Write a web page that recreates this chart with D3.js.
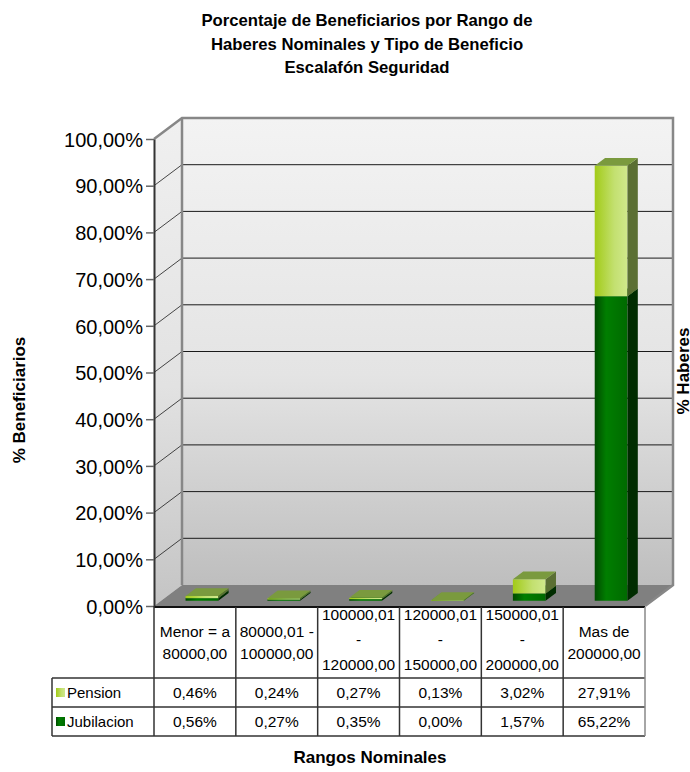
<!DOCTYPE html>
<html>
<head>
<meta charset="utf-8">
<script src="https://cdn.jsdelivr.net/npm/d3@7"></script>
<style>
  body { margin: 0; background: #fff; }
  svg text { font-family: "Liberation Sans", Arial, Helvetica, sans-serif; fill: #000; }
</style>
</head>
<body>
<svg id="chart" width="690" height="772"></svg>
<script>
// Data
var categories = ['Menor = a 80000,00', '80000,01 - 100000,00', '100000,01 - 120000,00',
                  '120000,01 - 150000,00', '150000,01 - 200000,00', 'Mas de 200000,00'];
var headerLines = [
    ['Menor = a', '80000,00'],
    ['80000,01 -', '100000,00'],
    ['100000,01', '-', '120000,00'],
    ['120000,01', '-', '150000,00'],
    ['150000,01', '-', '200000,00'],
    ['Mas de', '200000,00']
];
var pension    = [0.46, 0.24, 0.27, 0.13, 3.02, 27.91];
var jubilacion = [0.56, 0.27, 0.35, 0.00, 1.57, 65.22];
var yTicks = [0, 10, 20, 30, 40, 50, 60, 70, 80, 90, 100];

var svg = d3.select('#chart');

// plot geometry
var plotLeft = 154, plotRight = 645, plotBottom = 606, plotTop = 139;
var depthX = 28, depthY = -21;          // wall depth
var barF0 = 0.25, barF1 = 0.62;         // bar placed in the middle of the depth

var locale = d3.formatLocale({ decimal: ',', thousands: '.', grouping: [3] });
var pct = function (v) { return locale.format('.2f')(v) + '%'; };

var x = d3.scaleBand().domain(categories).range([plotLeft, plotRight]).paddingInner(0.6).paddingOuter(0.3);
var y = d3.scaleLinear().domain([0, 100]).range([plotBottom, plotTop]);

// gradients
var defs = svg.append('defs');
function grad(id, stops, x2, y2) {
    var g = defs.append('linearGradient').attr('id', id)
        .attr('x1', 0).attr('y1', 0).attr('x2', x2).attr('y2', y2);
    stops.forEach(function (s) {
        g.append('stop').attr('offset', s[0]).attr('stop-color', s[1]);
    });
}
grad('wall', [[0, '#f3f3f3'], [0.55, '#e4e4e4'], [1, '#bebebe']], 0, 1);
grad('lwall', [[0, '#f0f0f0'], [0.55, '#e2e2e2'], [1, '#c4c4c4']], 0, 1);
grad('penFront', [[0, '#a2cb18'], [0.6, '#c3e070'], [1, '#d0e88c']], 1, 0);
grad('jubFront', [[0, '#004a00'], [0.35, '#007e00'], [1, '#006a00']], 1, 0);

// walls
var wallTop = y(100) + depthY, wallBottom = y(0) + depthY;
svg.append('polygon')
    .attr('points', [[plotLeft, y(100)], [plotLeft + depthX, wallTop], [plotLeft + depthX, wallBottom], [plotLeft, y(0)]].join(' '))
    .attr('fill', 'url(#lwall)');
svg.append('rect')
    .attr('x', plotLeft + depthX).attr('y', wallTop)
    .attr('width', plotRight - plotLeft).attr('height', wallBottom - wallTop)
    .attr('fill', 'url(#wall)');
svg.append('polygon')
    .attr('points', [[plotLeft, y(0)], [plotLeft + depthX, wallBottom], [plotRight + depthX, wallBottom], [plotRight, y(0)]].join(' '))
    .attr('fill', '#808080');

// gridlines on back and left walls
var grid = svg.append('g');
yTicks.slice(1, -1).forEach(function (t) {
    grid.append('line')
        .attr('x1', plotLeft + depthX).attr('x2', plotRight + depthX)
        .attr('y1', y(t) + depthY).attr('y2', y(t) + depthY)
        .attr('stroke', '#1a1a1a').attr('stroke-width', 1);
    grid.append('line')
        .attr('x1', plotLeft).attr('x2', plotLeft + depthX)
        .attr('y1', y(t)).attr('y2', y(t) + depthY)
        .attr('stroke', '#1a1a1a').attr('stroke-width', 0.8);
});

// wall borders
svg.append('path')
    .attr('d', 'M' + plotLeft + ',' + y(100) + 'L' + (plotLeft + depthX) + ',' + wallTop +
               'L' + (plotRight + depthX) + ',' + wallTop + 'L' + (plotRight + depthX) + ',' + wallBottom +
               'L' + plotRight + ',' + y(0))
    .attr('fill', 'none').attr('stroke', '#878787').attr('stroke-width', 2.5);
svg.append('line')
    .attr('x1', plotLeft + depthX).attr('x2', plotLeft + depthX)
    .attr('y1', wallTop).attr('y2', wallBottom)
    .attr('stroke', '#878787').attr('stroke-width', 2.5);

// stacked 3D bars
var bx = barF0 * depthX, by = barF0 * depthY;
var bdx = (barF1 - barF0) * depthX, bdy = (barF1 - barF0) * depthY;
var bw = x.bandwidth();

function drawBlock(g, cat, v0, v1, front, side, topc) {
    var x0 = x(cat) + bx, x1 = x0 + bw;
    var yb = y(v0) + by, yt = y(v1) + by;
    g.append('rect')
        .attr('x', x0).attr('y', yt).attr('width', bw).attr('height', Math.max(yb - yt, 0))
        .attr('fill', front);
    g.append('polygon')
        .attr('points', [[x1, yt], [x1 + bdx, yt + bdy], [x1 + bdx, yb + bdy], [x1, yb]].join(' '))
        .attr('fill', side);
    g.append('polygon')
        .attr('points', [[x0, yt], [x0 + bdx, yt + bdy], [x1 + bdx, yt + bdy], [x1, yt]].join(' '))
        .attr('fill', topc);
}

var bars = svg.append('g');
categories.forEach(function (c, i) {
    var g = bars.append('g');
    drawBlock(g, c, 0, jubilacion[i], 'url(#jubFront)', '#002c00', '#1f6a10');
    drawBlock(g, c, jubilacion[i], jubilacion[i] + pension[i], 'url(#penFront)', '#5b6f33', '#7a9a3e');
});

// left axis
var axis = svg.append('g')
    .attr('transform', 'translate(' + plotLeft + ',0)')
    .call(d3.axisLeft(y).tickValues(yTicks).tickFormat(pct).tickSize(8).tickSizeOuter(0));
axis.select('.domain').attr('stroke', '#333').attr('stroke-width', 2);
axis.selectAll('.tick line').attr('stroke', '#666').attr('stroke-width', 1.5);
axis.selectAll('.tick text')
    .attr('x', -11).attr('dy', '0.36em')
    .style('font-size', '20px')
    .style('font-family', '"Liberation Sans", Arial, sans-serif');

// data table
var tbl = svg.append('g');
var rowTop = 607, rowHead = 678, rowPen = 707, rowJub = 736, legLeft = 52;
var lineCol = '#333';
var cellFont = '15.5px';
var colEdges = categories.map(function (c) { return x(c) - x.step() * x.paddingInner() / 2; });
colEdges.push(plotRight);

tbl.append('line').attr('x1', plotLeft).attr('x2', plotRight).attr('y1', rowTop).attr('y2', rowTop)
    .attr('stroke', '#111').attr('stroke-width', 2);
[rowHead, rowPen, rowJub].forEach(function (ry) {
    tbl.append('line').attr('x1', legLeft).attr('x2', plotRight).attr('y1', ry).attr('y2', ry)
        .attr('stroke', lineCol).attr('stroke-width', 1.5);
});
colEdges.forEach(function (cx, i) {
    tbl.append('line').attr('x1', cx).attr('x2', cx)
        .attr('y1', i == 0 ? plotBottom : rowTop).attr('y2', rowJub)
        .attr('stroke', i == colEdges.length - 1 ? '#888' : lineCol).attr('stroke-width', 1.5);
});
tbl.append('line').attr('x1', legLeft).attr('x2', legLeft).attr('y1', rowHead).attr('y2', rowJub)
    .attr('stroke', lineCol).attr('stroke-width', 1.5);

categories.forEach(function (c, i) {
    var cx = (colEdges[i] + colEdges[i + 1]) / 2;
    var lines = headerLines[i];
    var base = lines.length == 3 ? [620, 645, 670] : [637, 659];
    lines.forEach(function (l, k) {
        tbl.append('text').attr('x', cx).attr('y', base[k])
            .attr('text-anchor', 'middle').style('font-size', cellFont).text(l);
    });
    tbl.append('text').attr('x', cx).attr('y', 698)
        .attr('text-anchor', 'middle').style('font-size', cellFont).text(pct(pension[i]));
    tbl.append('text').attr('x', cx).attr('y', 727)
        .attr('text-anchor', 'middle').style('font-size', cellFont).text(pct(jubilacion[i]));
});

// legend keys inside the table
var legend = [['Pension', 'url(#penFront)', 698], ['Jubilacion', 'url(#jubFront)', 727]];
legend.forEach(function (d) {
    tbl.append('rect').attr('x', 56).attr('y', d[2] - 10).attr('width', 9).attr('height', 9)
        .attr('fill', d[1]);
    tbl.append('text').attr('x', 67).attr('y', d[2]).style('font-size', '15px').text(d[0]);
});

// titles
var title = ['Porcentaje de Beneficiarios por Rango de', 'Haberes Nominales y Tipo de Beneficio', 'Escalafón Seguridad'];
title.forEach(function (t, i) {
    svg.append('text').attr('x', 367).attr('y', 26 + i * 23.5)
        .attr('text-anchor', 'middle').style('font-size', '16.7px').style('font-weight', 'bold').text(t);
});
svg.append('text').attr('x', 370).attr('y', 763)
    .attr('text-anchor', 'middle').style('font-size', '17px').style('font-weight', 'bold').text('Rangos Nominales');
svg.append('text').attr('transform', 'translate(25,400) rotate(-90)')
    .attr('text-anchor', 'middle').style('font-size', '17px').style('font-weight', 'bold').text('% Beneficiarios');
svg.append('text').attr('transform', 'translate(689,371) rotate(-90)')
    .attr('text-anchor', 'middle').style('font-size', '17px').style('font-weight', 'bold').text('% Haberes');
</script>
</body>
</html>
